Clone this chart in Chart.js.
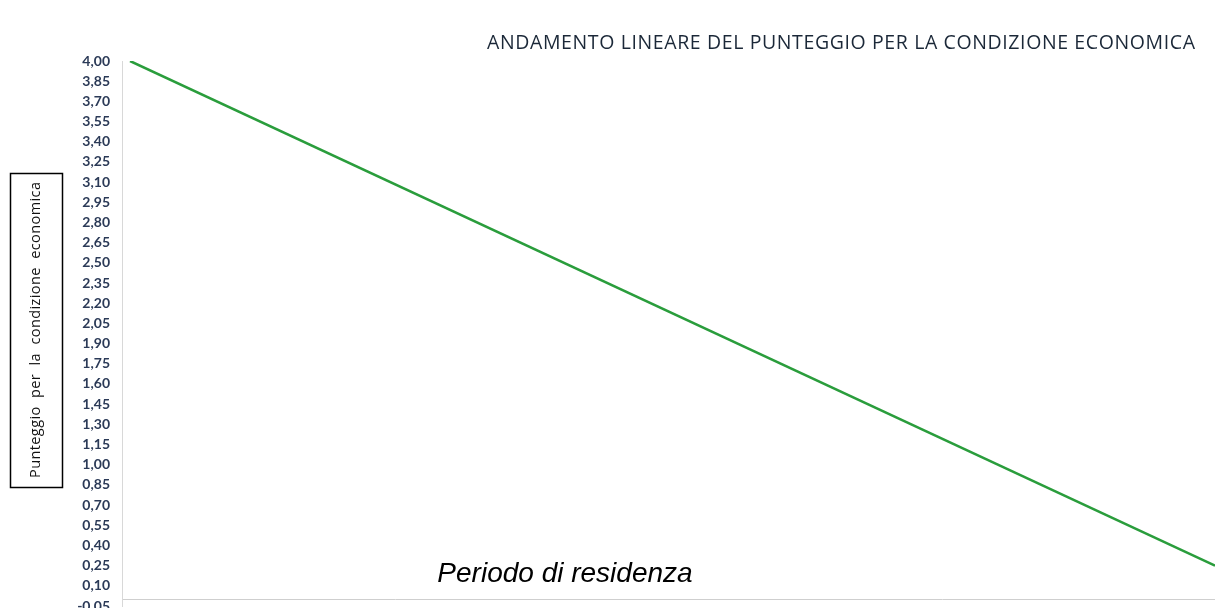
<!DOCTYPE html>
<html><head><meta charset="utf-8">
<script src="https://cdn.jsdelivr.net/npm/chart.js@4.4.1/dist/chart.umd.min.js"></script>
<style>html,body{margin:0;padding:0;background:#fff}#wrap{width:1215px;height:608px;position:relative}</style>
</head><body><div id="wrap"><canvas id="c"></canvas></div>
<script>
const chartTitle = "ANDAMENTO LINEARE DEL PUNTEGGIO PER LA CONDIZIONE ECONOMICA";
const yAxisTitle = "Punteggio  per  la  condizione  economica";
const xAxisTitle = "Periodo di residenza";
const periodX = [0, 10];
const scoreY = [4.00, 0.25];
const yTicks = [4.00,3.85,3.70,3.55,3.40,3.25,3.10,2.95,2.80,2.65,2.50,2.35,2.20,2.05,1.90,1.75,1.60,1.45,1.30,1.15,1.00,0.85,0.70,0.55,0.40,0.25,0.10,-0.05];

function fitText(ctx, text, x, y, width) {
  const w = ctx.measureText(text).width;
  const ls = (width - w) / (text.length - 1);
  ctx.letterSpacing = ls + 'px';
  ctx.fillText(text, x, y);
  ctx.letterSpacing = '0px';
}

const textPlugin = {
  id: 'texts',
  afterDraw(chart) {
    const ctx = chart.ctx;
    ctx.save();
    ctx.fillStyle = '#1b2838';
    ctx.font = '19.5px "Open Sans"';
    ctx.textAlign = 'left';
    ctx.textBaseline = 'middle';
    fitText(ctx, chartTitle, 487, 43, 708);
    ctx.strokeStyle = '#000';
    ctx.lineWidth = 1.5;
    ctx.strokeRect(10.5, 173.5, 52, 314);
    ctx.translate(36, 330);
    ctx.rotate(-Math.PI/2);
    ctx.textAlign = 'left';
    ctx.fillStyle = '#111';
    ctx.font = '14.5px "Open Sans"';
    fitText(ctx, yAxisTitle, -148, 0, 296);
    ctx.restore();
    ctx.save();
    ctx.fillStyle = '#000';
    ctx.font = 'italic 28px "Liberation Sans"';
    ctx.textAlign = 'center';
    ctx.textBaseline = 'alphabetic';
    ctx.fillText(xAxisTitle, 565, 582);
    ctx.restore();
  }
};

new Chart(document.getElementById('c'), {
  type: 'line',
  data: {
    datasets: [{
      data: periodX.map((x, i) => ({x: x, y: scoreY[i]})),
      borderColor: '#2a9d3c',
      borderWidth: 2.5,
      pointRadius: 0,
      tension: 0,
      fill: false
    }]
  },
  options: {
    responsive: true,
    maintainAspectRatio: false,
    animation: false,
    layout: {padding: {top: 61, bottom: 2, left: 0, right: 0}},
    plugins: {legend: {display: false}, tooltip: {enabled: false}, title: {display: false}},
    scales: {
      x: {
        type: 'linear',
        position: {y: 0},
        min: -0.074,
        max: 10,
        ticks: {display: false},
        grid: {display: false, drawTicks: false},
        border: {display: true, color: '#cfcfcf', dash: [3, 2], width: 1},
        afterFit(s) { s.height = 0; s.paddingLeft = 0; s.paddingRight = 0; }
      },
      y: {
        type: 'linear',
        min: -0.05,
        max: 4.00,
        afterBuildTicks(s) { s.ticks = yTicks.map(v => ({value: v})); },
        afterFit(s) { s.width = 122; s.paddingTop = 0; s.paddingBottom = 0; },
        ticks: {
          padding: 12,
          color: '#2b3a57',
          font: {family: 'Lato', size: 14, weight: 'bold'},
          callback: v => Number(v).toFixed(2).replace('.', ',')
        },
        grid: {display: false, drawTicks: false},
        border: {display: true, color: '#d8d8d8', dash: [2, 2], width: 1}
      }
    }
  },
  plugins: [textPlugin]
});
</script>
</body></html>
